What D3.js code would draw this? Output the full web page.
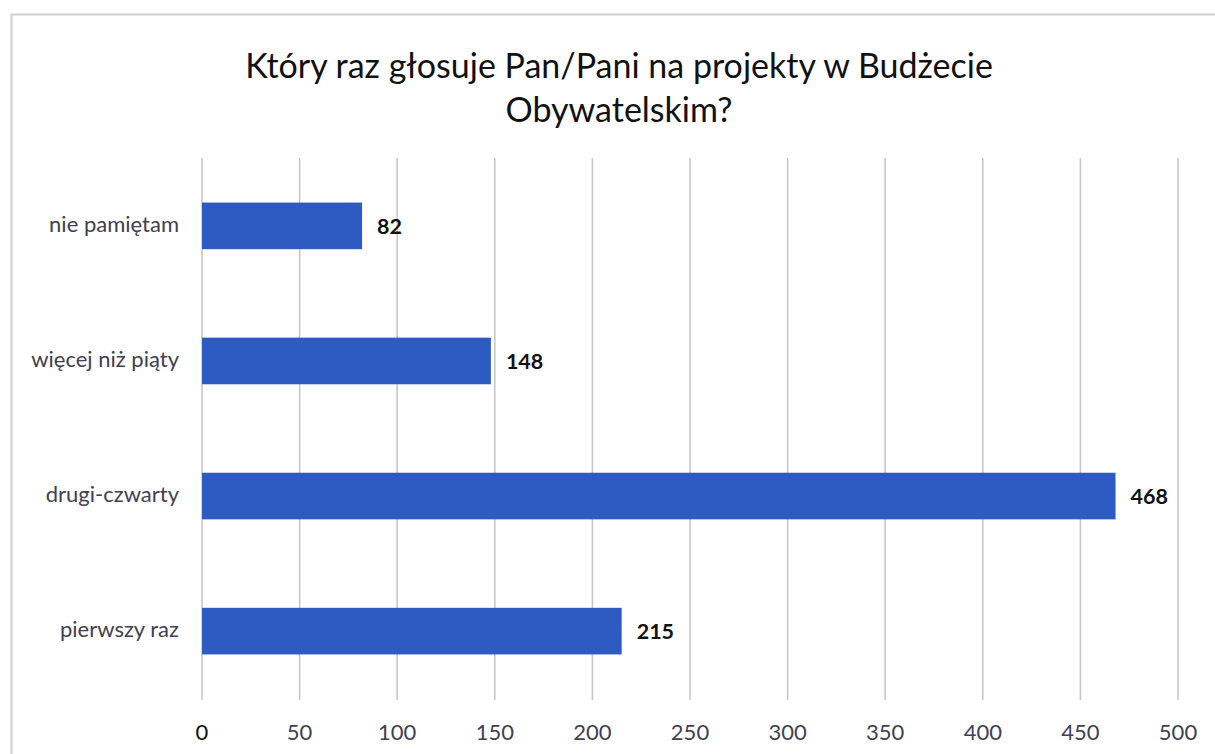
<!DOCTYPE html>
<html><head><meta charset="utf-8">
<script src="https://cdn.jsdelivr.net/npm/d3@7"></script>
<style>body{margin:0;background:#fff}svg{display:block}</style>
</head><body>
<script>
const categories = ["nie pamiętam","więcej niż piąty","drugi-czwarty","pierwszy raz"];
const values = [82,148,468,215];
const tickValues = [0,50,100,150,200,250,300,350,400,450,500];
const titleLines = ["Który raz głosuje Pan/Pani na projekty w Budżecie","Obywatelskim?"];

const W=1215,H=754;
const svg=d3.select("body").append("svg").attr("width",W).attr("height",H);
const font="Lato, 'Open Sans', sans-serif";
svg.append("rect").attr("x",11.5).attr("y",14.5).attr("width",W).attr("height",H).attr("fill","#fff").attr("stroke","#d0d0d0").attr("stroke-width",2);

const x=d3.scaleLinear().domain([0,500]).range([202,1178]);
const y=d3.scaleBand().domain(categories).range([158,699]).paddingInner(0.655).paddingOuter(0.33);

svg.append("g").selectAll("line").data(tickValues).join("line")
 .attr("x1",d=>x(d)).attr("x2",d=>x(d)).attr("y1",158).attr("y2",700)
 .attr("stroke","#c4c4c4").attr("stroke-width",1.5);

svg.append("g").selectAll("rect").data(values).join("rect")
 .attr("x",x(0)).attr("y",(d,i)=>y(categories[i])).attr("width",d=>x(d)-x(0)).attr("height",y.bandwidth())
 .attr("fill","#2d5bc2");

svg.append("g").selectAll("text").data(values).join("text")
 .attr("x",d=>x(d)+15).attr("y",(d,i)=>y(categories[i])+y.bandwidth()/2+8)
 .attr("font-family",font).attr("font-weight","bold").attr("font-size",21.5).attr("fill","#111")
 .text(d=>d);

svg.append("g").selectAll("text").data(categories).join("text")
 .attr("x",179).attr("y",d=>y(d)+y.bandwidth()/2+6)
 .attr("text-anchor","end").attr("font-family",font).attr("font-size",22).attr("fill","#404050")
 .text(d=>d);

svg.append("g").selectAll("text").data(tickValues).join("text")
 .attr("x",d=>x(d)).attr("y",740).attr("text-anchor","middle")
 .attr("font-family",font).attr("font-size",22).attr("fill",(d,i)=>i===0?"#111":"#404055")
 .text(d=>d);

svg.append("g").selectAll("text").data(titleLines).join("text")
 .attr("x",619).attr("y",(d,i)=>78+i*44).attr("text-anchor","middle")
 .attr("font-family",font).attr("font-size",34).attr("fill","#111")
 .text(d=>d);
</script>
</body></html>
